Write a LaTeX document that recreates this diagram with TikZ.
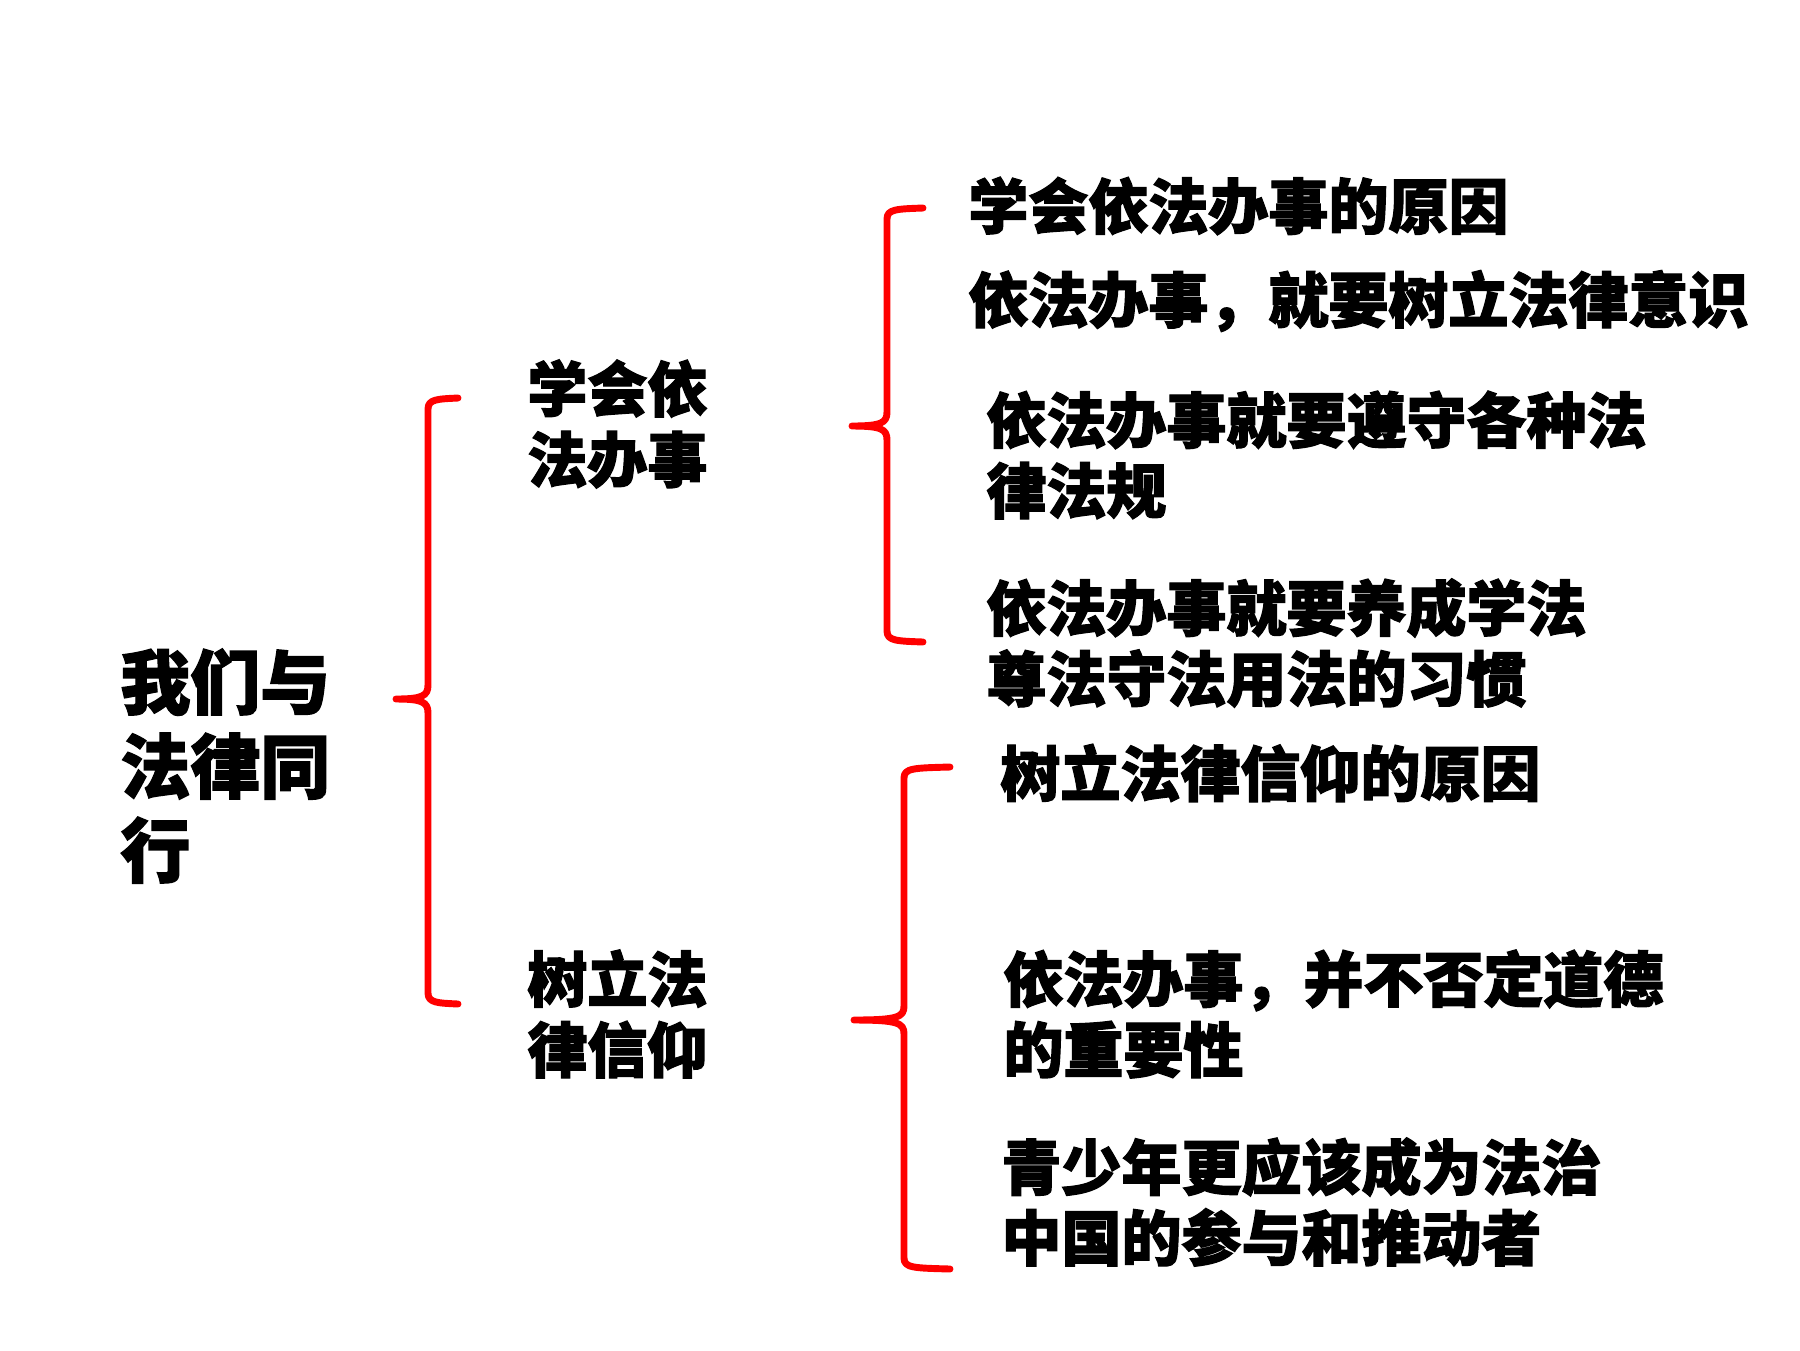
\documentclass[tikz,border=0pt]{standalone}
\usepackage{fontspec}
\newfontfamily\cjk{Noto Sans CJK SC}[BoldFeatures={FakeBold=2}]
\tikzset{
  lbl/.style={anchor=west, inner sep=0pt, align=left, text=black, font=\cjk\bfseries\fontsize{26}{30.6}\selectfont},
  bigl/.style={anchor=west, inner sep=0pt, align=left, text=black, font=\cjk\bfseries\fontsize{30.3}{36.4}\selectfont},
  brace/.style={draw=red, line width=3pt, line cap=round, line join=round}
}
\newcommand{\mybrace}[6]{% vx, top, tipx, mid, midtipx, bottom
  \draw[brace] (#3,#2) .. controls (#1+10,#2+1) and (#1,#2+1) .. (#1,#2+11)
    -- (#1,#4-14) .. controls (#1,#4-3) and (#1-6,#4) .. (#5,#4)
    .. controls (#1-6,#4) and (#1,#4+3) .. (#1,#4+14)
    -- (#1,#6-11) .. controls (#1,#6-1) and (#1+10,#6-1) .. (#3,#6);
}
\begin{document}
\begin{tikzpicture}[x=0.43333pt,y=-0.43333pt]
\useasboundingbox (0,0) rectangle (1800,1350);
\node[bigl] (root) at (120,766) {我们与\\法律同\\行};
\node[lbl] (a) at (527,424) {学会依\\法办事};
\node[lbl] (b) at (527,1014) {树立法\\律信仰};
\node[lbl] (a1) at (968,206) {学会依法办事的原因};
\node[lbl] (a2) at (968,301) {依法办事，就要树立法律意识};
\node[lbl] (a3) at (986,455) {依法办事就要遵守各种法\\律法规};
\node[lbl] (a4) at (986,643) {依法办事就要养成学法\\尊法守法用法的习惯};
\node[lbl] (b1) at (1000,773) {树立法律信仰的原因};
\node[lbl] (b2) at (1003,1014) {依法办事，并不否定道德\\的重要性};
\node[lbl] (b3) at (1001,1202) {青少年更应该成为法治\\中国的参与和推动者};
\mybrace{428}{398}{458}{699}{396}{1004}
\mybrace{887}{208}{923}{426}{852}{642}
\mybrace{904}{767}{950}{1020}{854}{1269}
\end{tikzpicture}
\end{document}
